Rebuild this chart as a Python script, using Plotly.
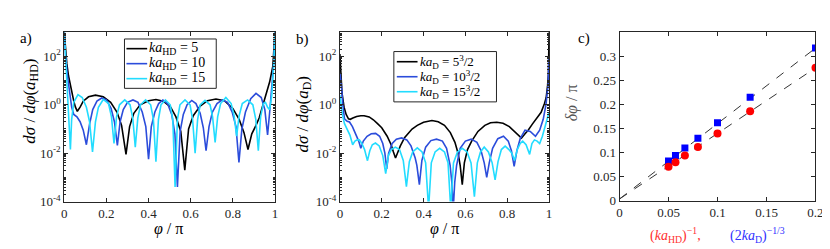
import plotly.graph_objects as go

# ---------------- data (x, log10 y) ----------------
# panel a : ka_HD = 5, 10, 15
a_ka5 = [(0, 3.0), (0.005, 2.3), (0.012, 1.7), (0.02, 1.2), (0.03, 0.75), (0.037, 0.5), (0.045, 0.15),
         (0.053, -0.1), (0.062, -0.27), (0.075, -0.1), (0.09, 0.15), (0.115, 0.33), (0.148, 0.40),
         (0.185, 0.33), (0.22, 0.1), (0.25, -0.3), (0.272, -0.85), (0.293, -2.05), (0.31, -0.9),
         (0.33, -0.35), (0.36, 0.0), (0.40, 0.17), (0.435, 0.22), (0.47, 0.15), (0.505, -0.1),
         (0.53, -0.5), (0.553, -1.1), (0.572, -2.7), (0.59, -1.0), (0.612, -0.45), (0.645, -0.05),
         (0.68, 0.17), (0.72, 0.24), (0.76, 0.17), (0.80, -0.15), (0.83, -0.6), (0.853, -1.15),
         (0.872, -1.85), (0.89, -1.2), (0.91, -0.85), (0.925, -0.55), (0.955, 0.35), (0.975, 0.95),
         (0.99, 1.6), (1.0, 3.0)]
a_ka10 = [(0, 3.0), (0.006, 2.0), (0.015, 1.2), (0.025, 0.5), (0.035, -0.1), (0.045, -0.4), (0.06, -0.5),
          (0.075, -0.7), (0.09, -1.05), (0.105, -1.65), (0.12, -0.8), (0.135, -0.2), (0.155, 0.15),
          (0.178, 0.28), (0.2, 0.2), (0.222, -0.15), (0.238, -0.7), (0.252, -1.68), (0.265, -0.7),
          (0.28, -0.2), (0.3, 0.1), (0.326, 0.2), (0.35, 0.1), (0.37, -0.3), (0.387, -0.9), (0.40, -2.25),
          (0.413, -0.9), (0.43, -0.3), (0.448, 0.05), (0.468, 0.2), (0.49, 0.05), (0.51, -0.4),
          (0.525, -1.2), (0.537, -3.4), (0.55, -1.1), (0.565, -0.4), (0.583, 0.0), (0.605, 0.18),
          (0.625, 0.05), (0.645, -0.35), (0.66, -0.95), (0.673, -1.9), (0.687, -0.9), (0.703, -0.3),
          (0.725, 0.05), (0.75, 0.2), (0.775, 0.1), (0.797, -0.3), (0.815, -0.9), (0.829, -2.38),
          (0.843, -1.0), (0.86, -0.3), (0.885, 0.25), (0.91, 0.47), (0.935, 0.3), (0.952, -0.2),
          (0.965, -1.25), (0.975, -0.3), (0.985, 0.6), (0.995, 1.8), (1.0, 3.0)]
a_ka15 = [(0, 3.0), (0.006, 2.0), (0.013, 1.0), (0.02, 0.0), (0.025, -0.8), (0.029, -1.85), (0.035, -0.6),
          (0.045, 0.1), (0.065, 0.42), (0.085, 0.3), (0.105, -0.1), (0.12, -0.7), (0.134, -1.95),
          (0.148, -0.7), (0.162, -0.1), (0.185, 0.22), (0.21, 0.05), (0.224, -0.5), (0.236, -1.6),
          (0.248, -0.5), (0.262, 0.0), (0.287, 0.2), (0.312, 0.0), (0.325, -0.55), (0.337, -1.75),
          (0.349, -0.55), (0.362, 0.0), (0.386, 0.2), (0.41, 0.0), (0.423, -0.6), (0.435, -2.35),
          (0.447, -0.6), (0.459, 0.0), (0.48, 0.2), (0.503, 0.0), (0.515, -0.6), (0.526, -3.4),
          (0.537, -0.6), (0.549, 0.0), (0.573, 0.2), (0.597, 0.0), (0.609, -0.6), (0.621, -2.0),
          (0.633, -0.6), (0.645, 0.0), (0.668, 0.18), (0.692, 0.0), (0.704, -0.5), (0.716, -1.55),
          (0.728, -0.5), (0.742, 0.05), (0.767, 0.3), (0.792, 0.05), (0.806, -0.45), (0.818, -1.3),
          (0.83, -0.45), (0.845, 0.05), (0.87, 0.2), (0.895, 0.0), (0.909, -0.6), (0.921, -1.9),
          (0.932, -0.5), (0.945, 0.05), (0.955, 0.1), (0.965, -0.1), (0.975, -0.2), (0.985, 0.4),
          (0.995, 1.8), (1.0, 3.0)]

# panel b : ka_D = 5^3/2, 10^3/2, 15^3/2
b_ka5 = [(0, 2.1), (0.004, 1.3), (0.01, 0.5), (0.02, -0.1), (0.03, -0.4), (0.041, -0.58), (0.05, -0.6),
         (0.062, -0.55), (0.08, -0.48), (0.1, -0.45), (0.116, -0.45), (0.14, -0.5), (0.16, -0.62),
         (0.18, -0.78), (0.2, -0.95), (0.226, -1.3), (0.245, -1.65), (0.256, -1.95), (0.266, -2.2),
         (0.275, -2.0), (0.289, -1.7), (0.31, -1.35), (0.325, -1.18), (0.345, -1.0), (0.37, -0.85),
         (0.4, -0.72), (0.44, -0.65), (0.47, -0.7), (0.5, -0.85), (0.528, -1.15), (0.55, -1.55),
         (0.565, -2.0), (0.575, -2.5), (0.585, -3.3), (0.595, -2.4), (0.61, -1.85), (0.63, -1.5),
         (0.66, -1.1), (0.693, -0.85), (0.72, -0.74), (0.75, -0.72), (0.78, -0.76), (0.81, -0.9),
         (0.84, -1.15), (0.855, -1.3), (0.868, -1.38), (0.885, -1.2), (0.9, -1.05), (0.92, -0.8),
         (0.939, -0.58), (0.962, -0.31), (0.978, 0.05), (0.986, 0.29), (0.993, 0.8), (0.997, 1.3),
         (1.0, 3.0)]
b_ka10 = [(0, 1.3), (0.006, 0.95), (0.014, 0.0), (0.022, -0.58), (0.035, -0.68), (0.046, -0.71),
          (0.06, -0.9), (0.075, -1.2), (0.09, -1.5), (0.1, -1.8), (0.112, -1.5), (0.13, -1.3),
          (0.15, -1.2), (0.171, -1.18), (0.19, -1.3), (0.205, -1.6), (0.215, -2.0), (0.224, -2.65),
          (0.233, -2.0), (0.25, -1.6), (0.27, -1.42), (0.295, -1.37), (0.32, -1.45), (0.34, -1.7),
          (0.36, -2.2), (0.368, -2.5), (0.38, -3.3), (0.392, -2.3), (0.41, -1.75), (0.435, -1.48),
          (0.462, -1.42), (0.49, -1.5), (0.51, -1.8), (0.527, -2.5), (0.535, -3.2), (0.542, -4.3),
          (0.549, -3.2), (0.558, -2.5), (0.575, -1.8), (0.6, -1.5), (0.628, -1.42), (0.655, -1.55),
          (0.675, -1.9), (0.69, -2.4), (0.702, -3.0), (0.714, -2.4), (0.73, -1.8), (0.755, -1.4),
          (0.782, -1.3), (0.805, -1.5), (0.82, -1.9), (0.833, -2.55), (0.846, -1.9), (0.862, -1.4),
          (0.885, -1.05), (0.91, -1.1), (0.935, -1.3), (0.955, -1.05), (0.972, -0.6), (0.985, 0.0),
          (0.995, 0.8), (1.0, 2.0)]
b_ka15 = [(0, 0.4), (0.005, 0.0), (0.012, -0.4), (0.022, -0.78), (0.035, -1.0), (0.048, -1.25),
          (0.061, -1.65), (0.072, -1.5), (0.083, -1.45), (0.093, -1.45), (0.105, -1.6), (0.118, -1.85),
          (0.132, -2.31), (0.143, -1.9), (0.155, -1.65), (0.17, -1.58), (0.188, -1.7), (0.205, -2.1),
          (0.219, -2.85), (0.232, -2.1), (0.246, -1.85), (0.265, -1.75), (0.285, -1.85), (0.303, -2.3),
          (0.318, -3.38), (0.332, -2.35), (0.348, -1.95), (0.37, -1.78), (0.393, -1.95), (0.41, -2.4),
          (0.424, -4.3), (0.437, -2.4), (0.455, -1.95), (0.477, -1.8), (0.5, -1.95), (0.517, -2.4),
          (0.53, -4.3), (0.543, -2.4), (0.562, -1.95), (0.585, -1.8), (0.608, -1.95), (0.627, -2.4),
          (0.643, -3.8), (0.657, -2.4), (0.672, -1.95), (0.69, -1.75), (0.71, -1.95), (0.728, -2.4),
          (0.742, -3.1), (0.756, -2.35), (0.772, -1.85), (0.79, -1.71), (0.808, -1.85), (0.822, -2.0),
          (0.835, -2.3), (0.848, -1.85), (0.862, -1.6), (0.874, -1.5), (0.89, -1.65), (0.907, -2.05),
          (0.918, -1.6), (0.93, -1.45), (0.943, -1.5), (0.955, -1.6), (0.968, -1.3), (0.982, -0.9),
          (0.993, -0.5), (1.0, -0.3)]

# panel c
c_x = [0.05, 0.0571, 0.0667, 0.08, 0.1, 0.1333, 0.2]
c_red = [0.071, 0.080, 0.094, 0.112, 0.140, 0.186, 0.276]
c_blue = [0.083, 0.094, 0.110, 0.130, 0.162, 0.215, 0.317]
fit_x = [0.0, 0.2]
fit_red = [0.004, 0.276]
fit_blue = [0.004, 0.317]

phi_ticks = [0, 0.2, 0.4, 0.6, 0.8, 1]
phi_ticktext = ['0', '0.2', '0.4', '0.6', '0.8', '1']
log_ticks = [1e-4, 1e-2, 1, 1e2]
log_ticktext = ['10<sup>-4</sup>', '10<sup>-2</sup>', '10<sup>0</sup>', '10<sup>2</sup>']
c_xticks = [0, 0.05, 0.1, 0.15, 0.2]
c_yticks = [0, 0.05, 0.1, 0.15, 0.2, 0.25, 0.3]

names_a = ['<i>ka</i><sub>HD</sub> = 5', '<i>ka</i><sub>HD</sub> = 10', '<i>ka</i><sub>HD</sub> = 15']
names_b = ['<i>ka</i><sub>D</sub> = 5<sup>3</sup>/2', '<i>ka</i><sub>D</sub> = 10<sup>3</sup>/2',
           '<i>ka</i><sub>D</sub> = 15<sup>3</sup>/2']

BLACK, BLUE, CYAN = '#000000', '#2b4cdb', '#22dcff'
COLORS = [BLACK, BLUE, CYAN]
SERIF = 'Liberation Serif'
AX = '#262626'

fig = go.Figure()


def add_curve(pts, color, name, xa, ya):
    fig.add_trace(go.Scatter(x=[p[0] for p in pts], y=[10 ** p[1] for p in pts], mode='lines',
                             line=dict(color=color, width=1.6), name=name,
                             xaxis=xa, yaxis=ya, showlegend=False))


for pts, col, nm in zip([a_ka5, a_ka10, a_ka15], COLORS, names_a):
    add_curve(pts, col, nm, 'x', 'y')
for pts, col, nm in zip([b_ka5, b_ka10, b_ka15], COLORS, names_b):
    add_curve(pts, col, nm, 'x2', 'y2')

fig.add_trace(go.Scatter(x=fit_x, y=fit_blue, mode='lines', line=dict(color='#333333', width=1, dash='dash'),
                         xaxis='x3', yaxis='y3', showlegend=False))
fig.add_trace(go.Scatter(x=fit_x, y=fit_red, mode='lines', line=dict(color='#333333', width=1, dash='dash'),
                         xaxis='x3', yaxis='y3', showlegend=False))
fig.add_trace(go.Scatter(x=c_x, y=c_blue, mode='markers', marker=dict(symbol='square', size=7, color='#0000ff'),
                         xaxis='x3', yaxis='y3', showlegend=False))
fig.add_trace(go.Scatter(x=c_x, y=c_red, mode='markers', marker=dict(symbol='circle', size=8, color='#ff0000'),
                         xaxis='x3', yaxis='y3', showlegend=False))

W, H = 830, 249


def fx(px):
    return px / W


def fy(py):
    return 1 - py / H


common = dict(showline=True, linecolor=AX, linewidth=1, mirror='allticks', ticks='inside', ticklen=4,
              tickcolor=AX, showgrid=False, zeroline=False,
              tickfont=dict(family=SERIF, size=13, color=AX))
minor_vals = [m * 10.0 ** e for e in range(-4, 3) for m in range(1, 10)]
logax = dict(type='log', range=[-4, 3], tickmode='array', tickvals=log_ticks, ticktext=log_ticktext,
             minor=dict(tickmode='array', tickvals=minor_vals, ticks='inside', ticklen=2, tickcolor=AX),
             **common)
phiax = dict(range=[0, 1], tickmode='array', tickvals=phi_ticks, ticktext=phi_ticktext, **common)

fig.update_layout(
    width=W, height=H, margin=dict(l=0, r=0, t=0, b=0),
    paper_bgcolor='white', plot_bgcolor='white', showlegend=False,
    xaxis=dict(domain=[fx(54), fx(267.5)], anchor='y', **phiax),
    yaxis=dict(domain=[fy(200), fy(25)], anchor='x', **logax),
    xaxis2=dict(domain=[fx(333.3), fx(545.3)], anchor='y2', **phiax),
    yaxis2=dict(domain=[fy(200), fy(25)], anchor='x2', **logax),
    xaxis3=dict(domain=[fx(616.7), fx(815.3)], anchor='y3', range=[0, 0.2], tickmode='array',
                tickvals=c_xticks, **common),
    yaxis3=dict(domain=[fy(199.3), fy(25)], anchor='x3', range=[0, 0.35], tickmode='array',
                tickvals=c_yticks, **common),
)

ann = []
shapes = []


def add_ann(text, px, py, size=15, color='black', angle=0, xanchor='center'):
    ann.append(dict(text=text, x=fx(px), y=fy(py), xref='paper', yref='paper', showarrow=False,
                    xanchor=xanchor, yanchor='middle', textangle=angle,
                    font=dict(family=SERIF, size=size, color=color)))


def add_legend(box, rows, line_x, text_x, names, fsize):
    x0, y0, x1, y1 = box
    shapes.append(dict(type='rect', xref='paper', yref='paper', x0=fx(x0), x1=fx(x1), y0=fy(y0), y1=fy(y1),
                       line=dict(color=AX, width=1), fillcolor='white', layer='above'))
    for ry, col, nm in zip(rows, COLORS, names):
        shapes.append(dict(type='line', xref='paper', yref='paper', x0=fx(line_x[0]), x1=fx(line_x[1]),
                           y0=fy(ry), y1=fy(ry), line=dict(color=col, width=1.6), layer='above'))
        add_ann(nm, text_x, ry, fsize, xanchor='left')


add_legend((115, 32, 208, 83), (42, 57.5, 73), (117, 138), 138, names_a, 14)
add_legend((388, 45, 492, 97), (55.5, 71, 86.5), (391, 412), 412, names_b, 13)

add_ann('a)', 15, 32, 15)
add_ann('b)', 295, 33, 15)
add_ann('c)', 581, 32, 15)
add_ann('<i>dσ</i> / <i>dφ</i>(<i>a</i><sub>HD</sub>)', 20, 96, 17, angle=-90)
add_ann('<i>dσ</i> / <i>dφ</i>(<i>a</i><sub>D</sub>)', 297, 110, 17, angle=-90)
add_ann('<i>φ</i> / π', 160, 228, 16)
add_ann('<i>φ</i> / π', 439, 228, 16)
add_ann('<i>δφ</i> / π', 568, 98, 16, color='#555555', angle=-90)
add_ann('(<i>ka</i><sub>HD</sub>)<sup>−1</sup>,', 673, 235, 14, color='#ff3030')
add_ann('(2<i>ka</i><sub>D</sub>)<sup>−1/3</sup>', 757, 235, 14, color='#3030ff')
fig.update_layout(annotations=ann, shapes=shapes)

fig.write_html('out.html')
